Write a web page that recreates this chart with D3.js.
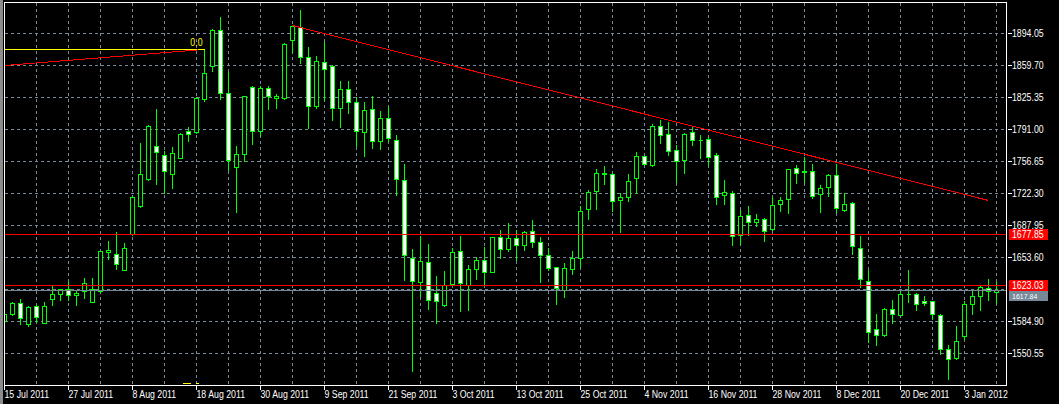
<!DOCTYPE html>
<html><head><meta charset="utf-8">
<script src="https://cdn.jsdelivr.net/npm/d3@7"></script>
<style>html,body{margin:0;padding:0;background:#000;overflow:hidden}</style>
</head><body><svg id="c" width="1059" height="404"></svg>
<script>
// ---- data (XAUUSD daily, bar index 0..124) ----
const tickLabels = ["15 Jul 2011","27 Jul 2011","8 Aug 2011","18 Aug 2011","30 Aug 2011","9 Sep 2011","21 Sep 2011","3 Oct 2011","13 Oct 2011","25 Oct 2011","4 Nov 2011","16 Nov 2011","28 Nov 2011","8 Dec 2011","20 Dec 2011","3 Jan 2012"];
const tickBars = [0,8,16,24,32,40,48,56,64,72,80,88,96,104,112,120];
const priceTicks = [1894.05,1859.70,1825.35,1791.00,1756.65,1722.30,1687.95,1653.60,1619.25,1584.90,1550.55];

const open  = [1585.2,1592.0,1604.2,1581.3,1601.0,1582.8,1608.5,1613.9,1618.8,1612.8,1616.7,1604.9,1616.7,1658.5,1656.8,1639.7,1678.6,1708.4,1737.3,1772.8,1763.1,1742.7,1759.9,1788.9,1787.8,1823.2,1858.6,1897.3,1829.6,1750.2,1764.2,1836.1,1788.9,1835.0,1823.9,1824.3,1886.5,1900.5,1868.3,1815.7,1862.9,1858.6,1813.5,1833.9,1820.0,1787.8,1812.5,1778.1,1802.8,1779.2,1736.3,1652.5,1626.8,1648.2,1615.0,1602.1,1624.6,1660.0,1623.6,1640.7,1650.4,1637.5,1675.1,1662.2,1674.0,1666.5,1681.5,1669.7,1655.8,1642.9,1618.2,1640.7,1652.5,1705.1,1724.5,1743.3,1742.7,1714.8,1718.0,1738.4,1762.0,1752.4,1794.2,1785.6,1768.5,1757.7,1787.8,1779.5,1780.3,1763.1,1720.2,1722.3,1677.2,1698.7,1691.2,1694.4,1683.7,1710.5,1715.9,1749.1,1745.5,1745.9,1721.2,1728.7,1741.6,1704.1,1711.6,1663.3,1627.8,1576.3,1569.9,1597.8,1591.4,1613.9,1613.9,1606.4,1606.4,1591.4,1554.9,1545.2,1568.8,1603.2,1611.7,1620.3,1616.0];
const high  = [1594.9,1606.7,1609.9,1601.7,1602.7,1606.4,1623.1,1619.9,1627.8,1619.3,1632.5,1631.7,1660.9,1672.2,1681.8,1669.7,1719.7,1777.0,1796.7,1813.9,1768.5,1773.1,1787.8,1794.2,1826.0,1876.9,1899.0,1911.9,1853.6,1774.2,1827.5,1838.2,1838.2,1838.2,1829.6,1884.4,1902.6,1920.1,1880.1,1870.4,1885.5,1860.8,1843.6,1843.6,1826.4,1821.1,1827.5,1811.4,1815.7,1785.6,1754.5,1663.3,1677.2,1668.6,1634.3,1639.7,1664.3,1677.2,1646.1,1654.7,1665.4,1676.5,1683.7,1691.2,1683.7,1682.6,1694.4,1676.2,1664.3,1643.9,1648.2,1661.1,1709.4,1726.6,1749.1,1752.4,1744.8,1723.4,1743.8,1767.4,1763.1,1797.4,1801.7,1799.6,1774.9,1787.8,1795.3,1785.6,1783.5,1766.3,1737.3,1725.5,1705.1,1709.4,1700.8,1696.5,1719.1,1719.1,1749.1,1753.4,1762.0,1754.5,1732.0,1743.8,1754.5,1723.4,1713.7,1677.2,1640.7,1593.5,1599.9,1608.5,1619.3,1640.7,1616.0,1612.8,1607.5,1593.5,1560.2,1580.6,1607.5,1619.3,1624.6,1631.1,1627.8];
const low   = [1583.1,1590.9,1581.3,1579.9,1583.4,1582.8,1601.7,1607.0,1607.0,1601.7,1609.2,1604.9,1616.4,1651.5,1640.3,1639.7,1677.5,1707.6,1735.8,1731.5,1722.3,1727.2,1759.9,1777.7,1787.0,1820.6,1852.8,1823.2,1747.0,1701.5,1756.7,1774.5,1783.8,1812.5,1813.5,1823.2,1873.7,1861.8,1791.6,1813.5,1822.1,1800.7,1793.2,1808.2,1772.8,1762.0,1770.6,1769.5,1778.1,1720.2,1628.9,1531.2,1611.7,1597.8,1582.8,1601.5,1623.6,1595.6,1596.7,1630.0,1624.6,1637.5,1652.5,1660.0,1650.4,1660.7,1664.3,1626.8,1640.0,1603.2,1610.7,1635.4,1642.9,1694.4,1705.1,1732.0,1703.0,1680.4,1713.7,1722.3,1752.4,1751.3,1776.0,1763.1,1734.1,1743.8,1773.8,1759.9,1752.4,1710.5,1710.5,1666.5,1667.6,1677.2,1686.5,1670.8,1682.6,1703.0,1700.8,1733.0,1734.4,1716.9,1701.9,1719.1,1701.9,1703.0,1656.8,1621.4,1562.4,1558.7,1569.1,1582.8,1591.4,1605.3,1596.7,1602.1,1587.1,1549.5,1522.7,1544.1,1565.6,1592.4,1596.7,1607.5,1604.2];
const close = [1592.7,1604.2,1588.1,1599.9,1589.2,1601.0,1613.9,1619.3,1612.8,1615.3,1625.3,1619.3,1660.0,1661.1,1646.1,1663.3,1718.0,1742.7,1794.5,1765.9,1745.9,1765.2,1786.0,1785.6,1824.3,1851.1,1897.3,1829.6,1757.3,1764.2,1826.4,1788.9,1835.0,1826.4,1826.4,1882.2,1901.6,1868.3,1815.7,1864.0,1855.4,1813.5,1833.9,1820.0,1788.9,1811.4,1778.1,1802.8,1781.7,1737.3,1655.8,1627.8,1649.3,1607.5,1606.4,1623.6,1659.0,1625.7,1640.7,1650.4,1637.5,1675.1,1662.2,1674.0,1666.5,1680.4,1669.7,1655.8,1641.8,1620.3,1641.8,1652.5,1703.0,1723.4,1743.8,1743.0,1713.7,1718.0,1735.2,1762.0,1753.4,1794.2,1784.6,1767.4,1756.7,1785.6,1779.2,1779.3,1760.9,1718.0,1723.4,1676.2,1697.6,1691.2,1694.4,1681.5,1709.4,1714.8,1748.1,1743.8,1745.2,1719.1,1727.7,1741.6,1706.2,1710.5,1665.0,1630.0,1573.1,1569.9,1597.8,1592.4,1613.9,1613.6,1603.2,1604.2,1592.4,1554.9,1544.1,1563.4,1603.2,1611.7,1621.4,1617.1,1617.84];

const redLevels = [1677.85, 1623.03];
const bidPrice = 1617.84;
const trendBars = [36, 123];
const trendPrices = [1902.63, 1714.78];
const fibBars = [0, 24.25];
const fibPrices = [1859.70, 1876.44];
const fibLevelBars = [0, 25];
const fibLevelPrice = 1876.87;
const fibLevelText = "0.0";
const fibLowBars = [22.3, 24.3];
const fibLowPrice = 1518.4;

// ---- scales ----
const W = 1059, H = 404;
const svg = d3.select("#c");
const x = d3.scaleLinear().domain([0, 124]).range([4.5, 996.5]);
const y = d3.scaleLinear().domain([1550.55, 1894.05]).range([353.5, 33.5]);
const py = v => Math.floor(y(v)) + 0.5;
const px = i => Math.floor(x(i)) + 0.5;
const FONT = "'Liberation Sans', Arial, sans-serif";
const GRID = "#778899";
const LIME = "#00ff00";
function squeeze(sel, k) {
  sel.each(function () {
    const w = this.getComputedTextLength();
    d3.select(this).attr("textLength", w * (k || 0.875)).attr("lengthAdjust", "spacingAndGlyphs");
  });
}

svg.append("rect").attr("width", W).attr("height", H).attr("fill", "#000");
svg.append("rect").attr("x", 0).attr("y", 0).attr("width", 3).attr("height", H).attr("fill", "#8c8c8c");

svg.append("clipPath").attr("id", "plot").append("rect")
  .attr("x", 5).attr("y", 3).attr("width", 1001).attr("height", 382);
const plot = svg.append("g").attr("clip-path", "url(#plot)").attr("shape-rendering", "crispEdges");

// grid
const gridBars = d3.range(0, 125, 4);
plot.selectAll("line.gv").data(gridBars).join("line").attr("class", "gv")
  .attr("x1", d => px(d)).attr("x2", d => px(d)).attr("y1", 3).attr("y2", 385)
  .attr("stroke", GRID).attr("stroke-dasharray", "3,3");
plot.selectAll("line.gh").data(priceTicks).join("line").attr("class", "gh")
  .attr("x1", 5).attr("x2", 1006).attr("y1", d => py(d)).attr("y2", d => py(d))
  .attr("stroke", GRID).attr("stroke-dasharray", "3,3");

// candles
const bars = d3.range(open.length);
plot.selectAll("line.wick").data(bars).join("line").attr("class", "wick")
  .attr("x1", i => px(i)).attr("x2", i => px(i))
  .attr("y1", i => py(high[i])).attr("y2", i => py(low[i]))
  .attr("stroke", LIME);
plot.selectAll("path.body").data(bars).join("path").attr("class", "body")
  .attr("d", i => {
    const t = py(Math.max(open[i], close[i])), b = py(Math.min(open[i], close[i]));
    const l = px(i) - 2, r = px(i) + 2;
    return `M${l},${t}H${r}V${b}H${l}Z`;
  })
  .attr("fill", i => close[i] < open[i] ? "#ffffff" : "#000000")
  .attr("stroke", LIME);

// horizontal lines
plot.append("line").attr("x1", 5).attr("x2", 1006).attr("y1", py(bidPrice)).attr("y2", py(bidPrice)).attr("stroke", GRID);
plot.selectAll("line.lvl").data(redLevels).join("line").attr("class", "lvl")
  .attr("x1", 5).attr("x2", 1006).attr("y1", d => py(d)).attr("y2", d => py(d)).attr("stroke", "#ff0000");

// trendline
plot.append("line")
  .attr("x1", x(trendBars[0])).attr("y1", y(trendPrices[0]))
  .attr("x2", x(trendBars[1])).attr("y2", y(trendPrices[1]))
  .attr("stroke", "#ff0000");

// fibo object
plot.append("line")
  .attr("x1", px(fibLevelBars[0])).attr("x2", px(fibLevelBars[1]))
  .attr("y1", py(fibLevelPrice)).attr("y2", py(fibLevelPrice)).attr("stroke", "#ffff00");
plot.append("line")
  .attr("x1", x(fibBars[0])).attr("y1", y(fibPrices[0]))
  .attr("x2", x(fibBars[1])).attr("y2", y(fibPrices[1]))
  .attr("stroke", "#ff0000").attr("stroke-width", 1);
plot.append("line")
  .attr("x1", x(fibLowBars[0])).attr("x2", x(fibLowBars[1]))
  .attr("y1", py(fibLowPrice)).attr("y2", py(fibLowPrice))
  .attr("stroke", "#ffff00").attr("stroke-dasharray", "8,5");
const ft = svg.append("text").attr("x", px(fibLevelBars[1]) - 2).attr("y", py(fibLevelPrice) - 3.5)
  .attr("text-anchor", "end").attr("fill", "#ffff00").attr("font-family", FONT).attr("font-size", 10)
  .text(fibLevelText);
squeeze(ft);

// frame
svg.append("rect").attr("x", 4.5).attr("y", 2.5).attr("width", 1002).attr("height", 383)
  .attr("fill", "none").attr("stroke", "#ffffff").attr("shape-rendering", "crispEdges");

// right axis (ticks hidden under the price boxes are not labelled, as in the reference)
const boxPrices = redLevels.concat([bidPrice]);
const shownTicks = priceTicks.filter(t => boxPrices.every(b => Math.abs(y(t) - y(b)) > 7));
const ay = svg.append("g").attr("transform", "translate(1006,0)")
  .call(d3.axisRight(y).tickValues(shownTicks).tickSize(5).tickPadding(1).offset(0).tickFormat(d3.format(".2f")));
ay.select(".domain").remove();
ay.selectAll("line").attr("stroke", "#ffffff").attr("x1", 2).attr("x2", 6).attr("shape-rendering", "crispEdges");
ay.selectAll(".tick").attr("transform", d => `translate(0,${py(d)})`);
ay.selectAll("text").attr("x", 6).attr("dy", null).attr("y", 3.6).attr("fill", "#ffffff")
  .attr("font-family", FONT).attr("font-size", 10);
squeeze(ay.selectAll("text"));

// bottom axis
const ax = svg.append("g").attr("transform", "translate(0,385.5)")
  .call(d3.axisBottom(x).tickValues(tickBars).tickSize(4).offset(0).tickFormat((d, i) => tickLabels[i]));
ax.select(".domain").remove();
ax.selectAll(".tick").attr("transform", d => `translate(${px(d)},0)`);
ax.selectAll("line").attr("stroke", "#ffffff").attr("shape-rendering", "crispEdges");
ax.selectAll("text").attr("x", 0).attr("y", 12.6).attr("dy", null).attr("text-anchor", "start")
  .attr("fill", "#ffffff").attr("font-family", FONT).attr("font-size", 10);
squeeze(ax.selectAll("text"));

// price labels
function priceBox(v, color, top, h, fs, dyText) {
  const g = svg.append("g");
  g.append("rect").attr("x", 1009).attr("y", py(v) + top).attr("width", 39).attr("height", h)
    .attr("fill", color).attr("shape-rendering", "crispEdges");
  const t = g.append("text").attr("x", 1012).attr("y", py(v) + dyText).attr("fill", "#ffffff")
    .attr("font-family", FONT).attr("font-size", fs).text(d3.format(".2f")(v));
  squeeze(t);
}
priceBox(bidPrice, GRID, -5, 15, 8, 8.6);
redLevels.forEach(v => priceBox(v, "#ff0000", -6, 11, 10, 3.6));
</script></body></html>
